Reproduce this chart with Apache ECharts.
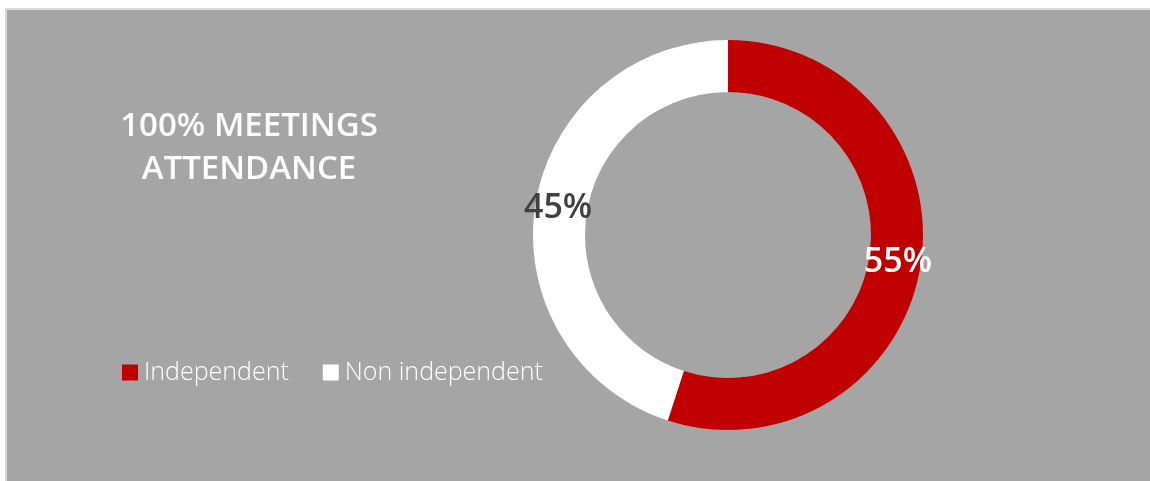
<!DOCTYPE html>
<html>
<head>
<meta charset="utf-8">
<script src="https://cdn.jsdelivr.net/npm/echarts@6/dist/echarts.min.js"></script>
<style>
  html, body { margin: 0; padding: 0; background: #fff; }
  #chart { width: 1150px; height: 481px; }
</style>
</head>
<body>
<div id="chart"></div>
<script>
var categories = ["Independent", "Non independent"];
var values = [55, 45];
var colors = ["#c00000", "#ffffff"];
var labelColors = ["#ffffff", "#404040"];

var pieData = categories.map(function (name, i) {
    return {
        name: name,
        value: values[i],
        itemStyle: { color: colors[i] },
        label: { color: labelColors[i] }
    };
});

var option = {
    backgroundColor: "#ffffff",
    animation: false,
    graphic: [
        {
            type: "rect",
            z: -10,
            shape: { x: 6, y: 9, width: 1150, height: 480 },
            style: { fill: "#a5a5a5", stroke: "#d9d9d9", lineWidth: 2 }
        }
    ],
    title: {
        text: "100% MEETINGS\nATTENDANCE",
        left: 244,
        top: 100,
        textAlign: "center",
        textStyle: {
            color: "#ffffff",
            fontFamily: "Open Sans",
            fontWeight: 600,
            fontSize: 33,
            lineHeight: 43
        }
    },
    legend: {
        data: categories,
        left: 117,
        top: 355,
        icon: "rect",
        itemWidth: 16,
        itemHeight: 16,
        itemGap: 34,
        textStyle: {
            color: "#ffffff",
            fontFamily: "Open Sans",
            fontWeight: 300,
            fontSize: 25,
            padding: [0, 0, 0, 1]
        }
    },
    series: [
        {
            type: "pie",
            center: [728, 235],
            radius: [143, 195],
            startAngle: 90,
            clockwise: true,
            silent: true,
            label: {
                show: true,
                position: "inside",
                formatter: "{d}%",
                fontFamily: "Open Sans",
                fontWeight: 600,
                fontSize: 34
            },
            labelLine: { show: false },
            data: pieData
        }
    ]
};

var chart = echarts.init(document.getElementById("chart"));
chart.setOption(option);
</script>
</body>
</html>
